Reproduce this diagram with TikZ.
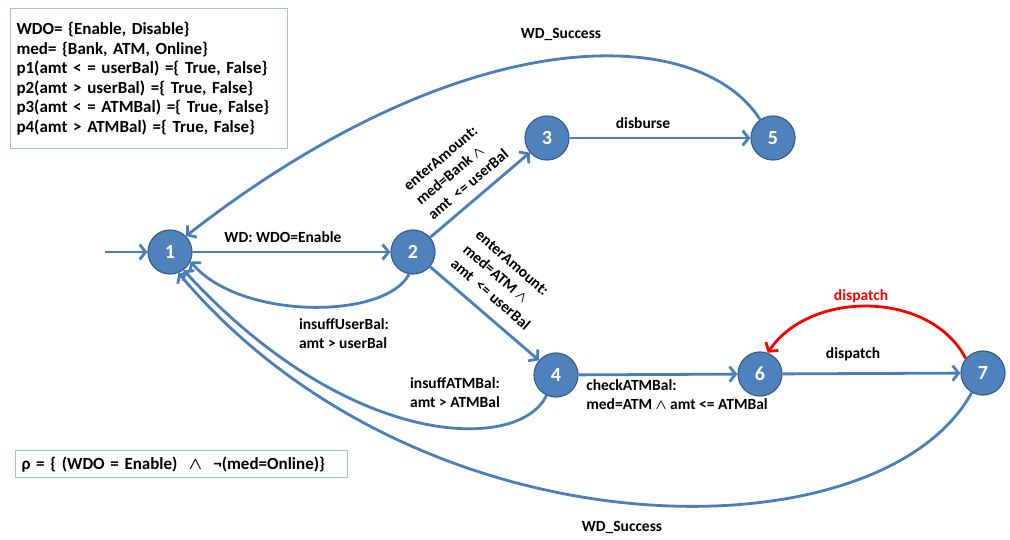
\documentclass[tikz,border=0pt]{standalone}
\usepackage{fontspec}
\setmainfont{Carlito}
\usepackage{amsmath}
\usepackage{tikz}
\usetikzlibrary{arrows.meta}
\definecolor{stateblue}{HTML}{4F81BD}
\definecolor{stateedge}{HTML}{385D8A}
\definecolor{lineblue}{HTML}{4A7EBB}
\definecolor{boxedge}{HTML}{A7BFDE}
\definecolor{dispred}{HTML}{FF0000}

\begin{document}
\begin{tikzpicture}[x=1pt,y=-1pt,
  state/.style={circle,fill=stateblue,draw=stateedge,line width=1.2pt,minimum size=44pt,inner sep=0pt,text=white,font=\bfseries\fontsize{20}{20}\selectfont},
  trans/.style={draw=lineblue,line width=2.8pt,-{Straight Barb[length=6pt,width=15pt]}},
  lbl/.style={font=\bfseries\fontsize{15.5}{19}\selectfont,align=left,inner sep=0pt},
  infobox/.style={draw=boxedge,line width=1pt,fill=white,font=\bfseries\fontsize{17}{19.5}\selectfont,align=left,anchor=north west,inner sep=6pt}]
\useasboundingbox (0,0) rectangle (1010,540);

\node[infobox,text width=265pt,minimum height=140pt] (domains) at (10,8) {WDO= \{Enable, Disable\}\\
med= \{Bank, ATM, Online\}\\
p1(amt < = userBal) =\{ True, False\}\\
p2(amt > userBal) =\{ True, False\}\\
p3(amt < = ATMBal) =\{ True, False\}\\
p4(amt > ATMBal) =\{ True, False\}};
\node[infobox,text width=320pt,minimum height=27pt,inner sep=6pt] (rho) at (15,450) {ρ = \{ (WDO = Enable)~ $\boldsymbol{\wedge}$ ~¬(med=Online)\}};

\node[state] (n1) at (170,252) {1};
\node[state] (n2) at (413,252) {2};
\node[state] (n3) at (547,138) {3};
\node[state] (n5) at (773,138) {5};
\node[state] (n4) at (556,375) {4};
\node[state] (n6) at (760,374) {6};
\node[state] (n7) at (983,373) {7};
\coordinate (start) at (105,252);

\draw[trans] (start) -- (n1);
\draw[trans] (n1) -- (n2);
\draw[trans] (n2) -- (n3);
\draw[trans] (n2) -- (n4);
\draw[trans] (n3) -- (n5);
\draw[trans] (n4) -- (n6);
\draw[trans] (n6) -- (n7);
\draw[trans] (n2.-100) .. controls (385,320) and (240,320) .. (n1.-25);
\draw[trans] (n4.-115) .. controls (520,452) and (350,452) .. (n1.-53);
\draw[trans] (n7.-120) .. controls (880,560) and (420,560) .. (n1.-68);
\draw[trans] (n5.125) .. controls (700,25) and (470,15) .. (n1.45);
\draw[trans,draw=dispred] (n7.140) .. controls (930,290) and (810,290) .. (n6.70);

\node[lbl] (l12) at (283,237) {WD: WDO=Enable};
\node[lbl,rotate=40] (l23) at (456,170) {enterAmount:\\med=Bank $\boldsymbol{\wedge}$\\amt~ <= userBal};
\node[lbl,rotate=-41] (l24) at (503,280) {enterAmount:\\med=ATM $\boldsymbol{\wedge}$\\amt~ <= userBal};
\node[lbl] (l21) at (344,334) {insuffUserBal:\\amt > userBal};
\node[lbl] (l35) at (643,123) {disburse};
\node[lbl] (l51) at (561,35) {WD\_Success};
\node[lbl] (l41) at (455,393) {insuffATMBal:\\amt > ATMBal};
\node[lbl] (l46) at (677,395) {checkATMBal:\\med=ATM $\boldsymbol{\wedge}$ amt <= ATMBal};
\node[lbl] (l67) at (853,354) {dispatch};
\node[lbl,text=dispred] (l76) at (861,296) {dispatch};
\node[lbl] (l71) at (622,527) {WD\_Success};
\end{tikzpicture}
\end{document}
